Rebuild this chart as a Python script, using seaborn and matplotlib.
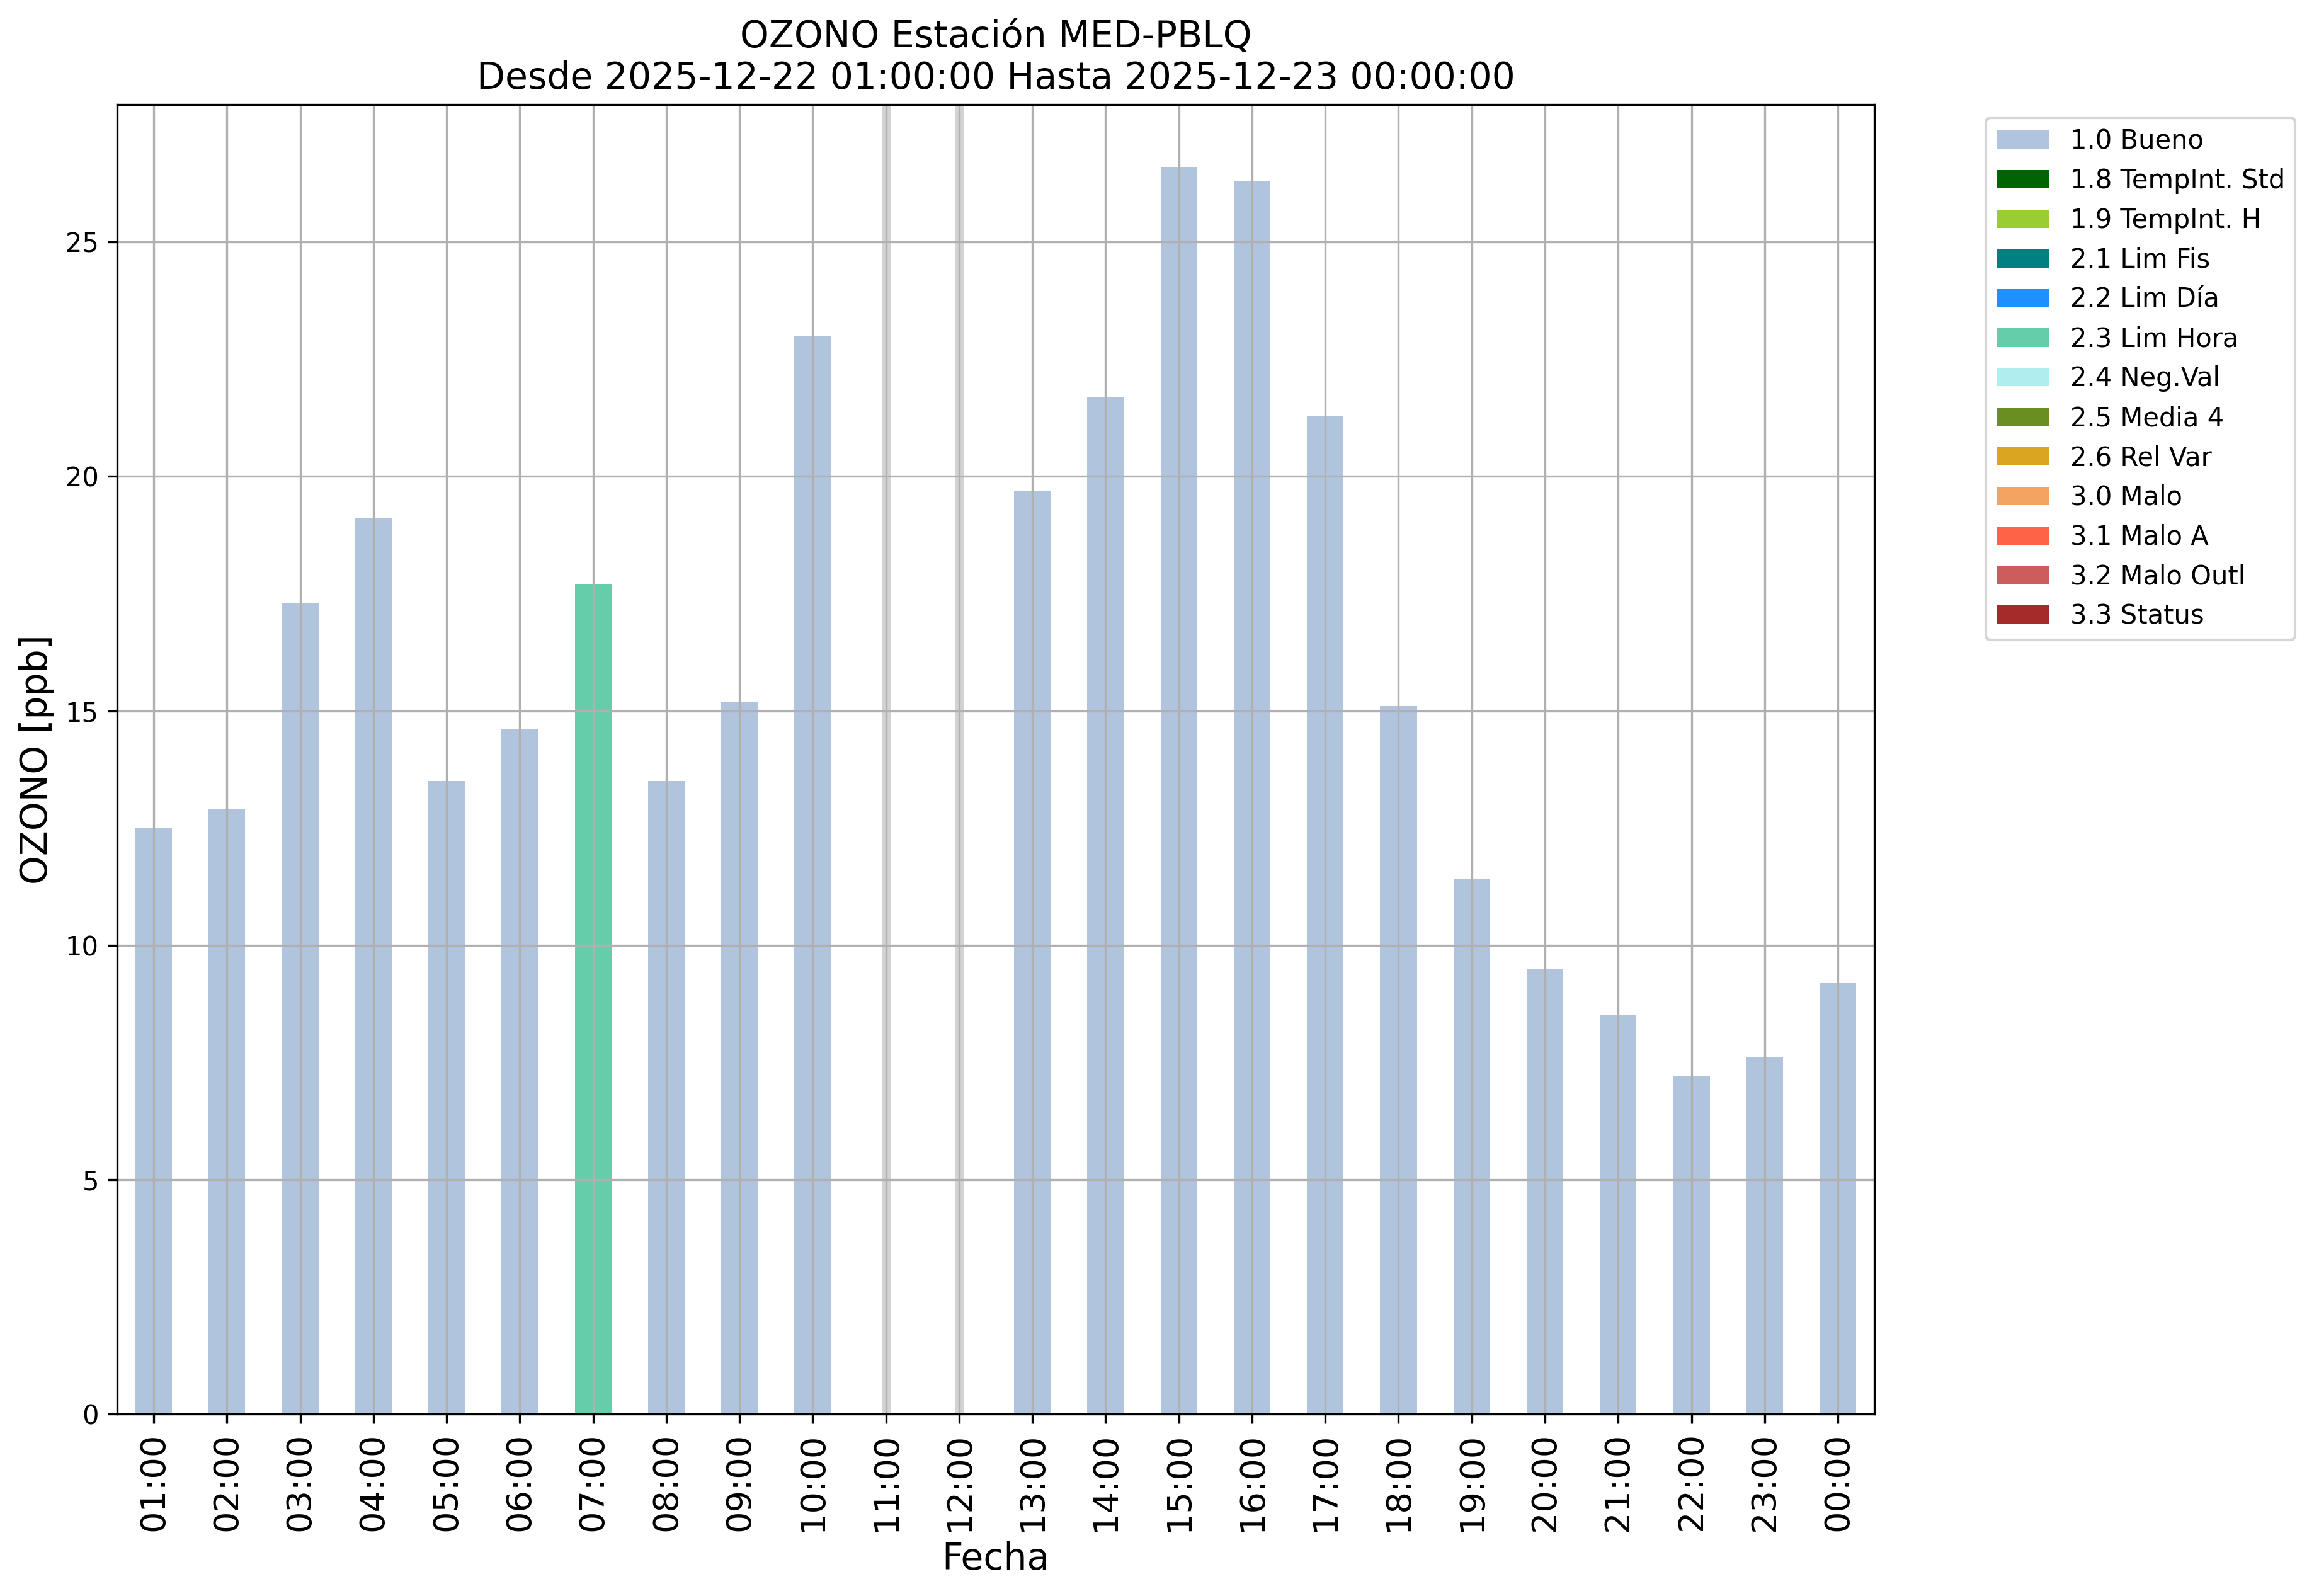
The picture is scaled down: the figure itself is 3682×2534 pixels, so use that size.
import numpy as np
import pandas as pd
import matplotlib
matplotlib.use("Agg")
import matplotlib.pyplot as plt
import seaborn as sns
from matplotlib.patches import Patch

hours = ["01:00", "02:00", "03:00", "04:00", "05:00", "06:00", "07:00", "08:00",
         "09:00", "10:00", "11:00", "12:00", "13:00", "14:00", "15:00", "16:00",
         "17:00", "18:00", "19:00", "20:00", "21:00", "22:00", "23:00", "00:00"]
values = [12.5, 12.9, 17.3, 19.1, 13.5, 14.6, 17.7, 13.5, 15.2, 23.0, np.nan, np.nan,
          19.7, 21.7, 26.6, 26.3, 21.3, 15.1, 11.4, 9.5, 8.5, 7.2, 7.6, 9.2]
flags = ["1.0 Bueno"] * 6 + ["2.3 Lim Hora"] + ["1.0 Bueno"] * 3 + [None, None] + ["1.0 Bueno"] * 12
missing_hours = ["11:00", "12:00"]

flag_labels = ["1.0 Bueno", "1.8 TempInt. Std", "1.9 TempInt. H", "2.1 Lim Fis", "2.2 Lim Día",
               "2.3 Lim Hora", "2.4 Neg.Val", "2.5 Media 4", "2.6 Rel Var", "3.0 Malo",
               "3.1 Malo A", "3.2 Malo Outl", "3.3 Status"]
flag_colors = ["lightsteelblue", "darkgreen", "yellowgreen", "teal", "dodgerblue",
               "mediumaquamarine", "paleturquoise", "olivedrab", "goldenrod", "sandybrown",
               "tomato", "indianred", "brown"]
palette = dict(zip(flag_labels, flag_colors))

df = pd.DataFrame({"Fecha": hours, "val": values, "flag": flags})

fig = plt.figure(figsize=(3682 / 300, 2534 / 300), dpi=300)
ax = fig.add_axes([0.0505, 0.114, 0.8083 - 0.0505, 0.9345 - 0.114])

sns.barplot(data=df.dropna(), x="Fecha", y="val", hue="flag", order=hours,
            hue_order=flag_labels, palette=palette, dodge=False, width=0.5,
            linewidth=0, saturation=1, legend=False, ax=ax)

for h in missing_hours:
    ax.axvline(hours.index(h), color="lightgray", linewidth=3.6, zorder=0.5)

ax.set_xlim(-0.5, len(hours) - 0.5)
ax.set_ylim(0, np.nanmax(values) * 1.05)
ax.grid(True, color="#b0b0b0", linewidth=0.8)
ax.set_axisbelow(False)
for s in ax.spines.values():
    s.set_linewidth(0.8)
    s.set_zorder(5)

ax.set_xticks(range(len(hours)))
ax.set_xticklabels(hours, rotation=90, fontsize=13)
ax.tick_params(axis="y", labelsize=10)
ax.set_xlabel("Fecha", fontsize=14)
ax.set_ylabel("OZONO [ppb]", fontsize=14)
ax.set_title("OZONO Estación MED-PBLQ\nDesde 2025-12-22 01:00:00 Hasta 2025-12-23 00:00:00",
             fontsize=14)

handles = [Patch(facecolor=palette[f], edgecolor="none", label=f) for f in flag_labels]
ax.legend(handles=handles, loc="upper left", bbox_to_anchor=(1.056, 1.0), fontsize=10)

fig.savefig("out.png", dpi=300)
